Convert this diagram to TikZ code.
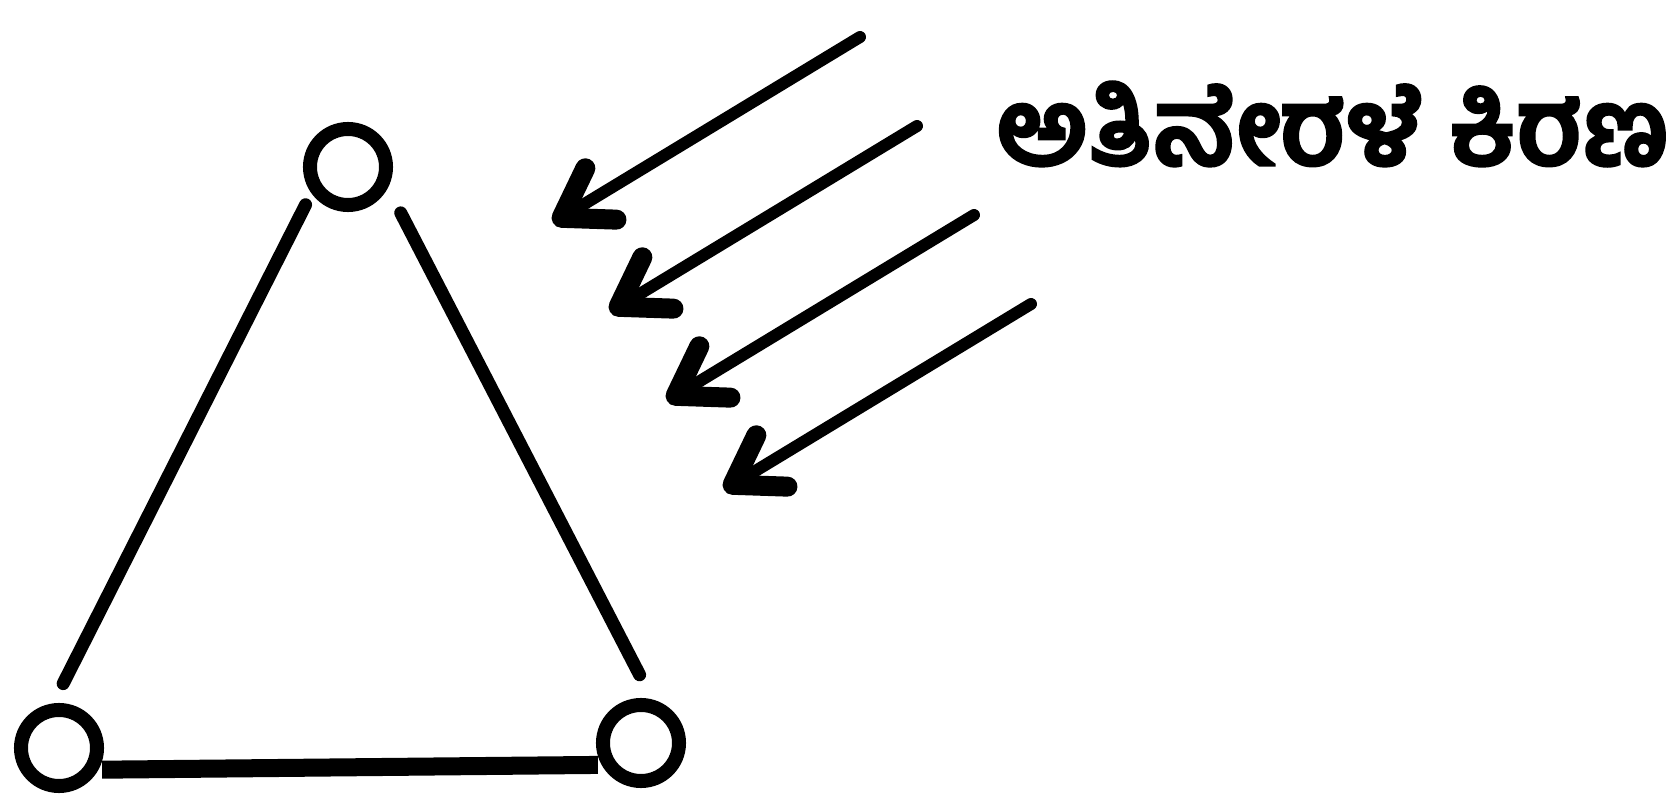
\documentclass[tikz,border=0pt]{standalone}
\usepackage{fontspec}
\newfontfamily\kannadafont[Script=Kannada,BoldFeatures={FakeBold=2.5}]{Hind Mysuru}
\usetikzlibrary{arrows.meta}

\begin{document}
\begin{tikzpicture}[x=0.01cm,y=-0.01cm,
    vertex/.style={circle,draw,line width=0.14cm,minimum size=0.76cm,inner sep=0pt,outer sep=0pt},
    edge/.style={line width=0.13cm,line cap=round},
    ray/.style={line width=0.12cm,line cap=round,
      -{Straight Barb[round,length=0.46cm,width=0.6cm,line width=0.2cm]}}]
  \useasboundingbox (0,0) rectangle (1668,803);
  % triangle of three atoms
  \node[vertex] (top) at (348,167) {};
  \node[vertex] (bl) at (59,748) {};
  \node[vertex] (br) at (641,743) {};
  \draw[edge,shorten <=0.21cm,shorten >=0.31cm] (top.210) -- (bl.105);
  \draw[edge,shorten <=0.37cm,shorten >=0.38cm] (top.-20) -- (br.65);
  \draw[line width=0.18cm,shorten <=0.12cm,shorten >=0.12cm] (bl.-35) -- (br.215);
  % incoming rays
  \foreach \i in {0,...,3} {
    \coordinate (tail\i) at (860+57*\i,37+89*\i);
    \coordinate (tip\i) at (553+57*\i,223+89*\i);
    \draw[ray] (tail\i) -- (tip\i);
  }
  \node[anchor=west,inner sep=0pt] (uvlabel) at (996,124)
    {\resizebox{6.72cm}{!}{\kannadafont\bfseries ಅತಿನೇರಳೆ ಕಿರಣ}};
\end{tikzpicture}
\end{document}
